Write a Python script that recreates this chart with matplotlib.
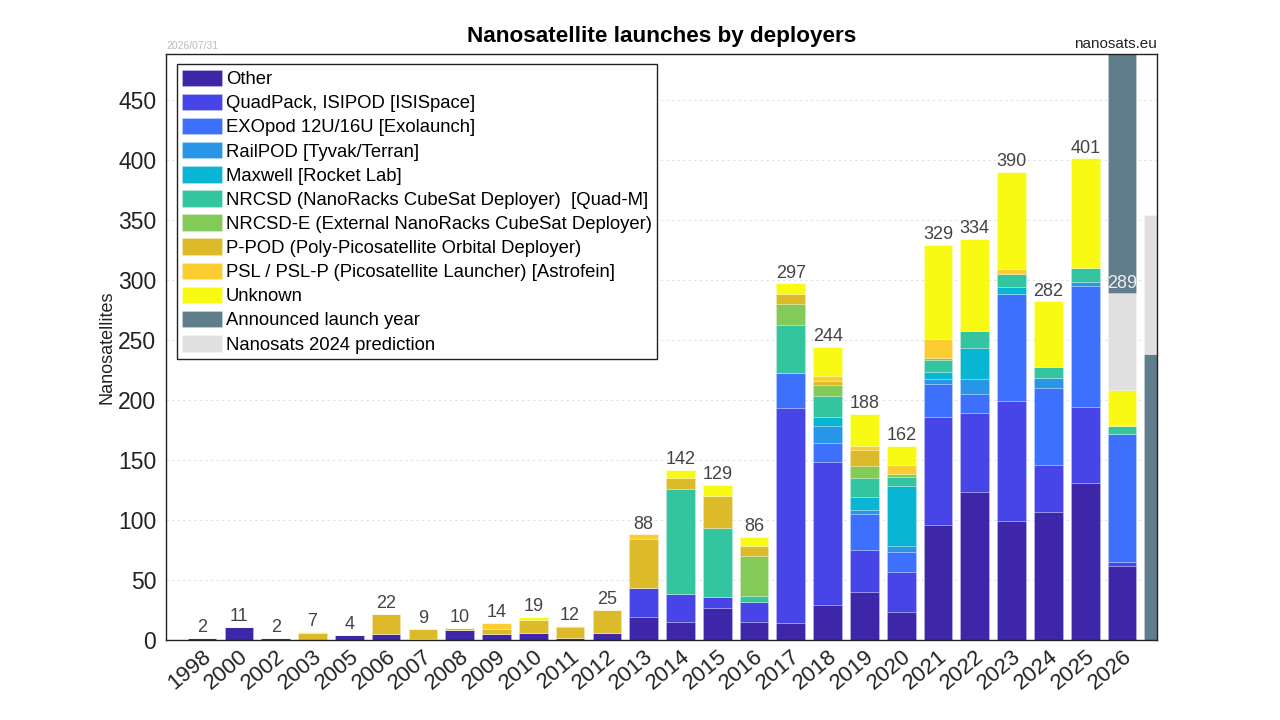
import numpy as np
import matplotlib
matplotlib.use("Agg")
import matplotlib.pyplot as plt

plt.rcParams['font.family'] = ['Liberation Sans', 'DejaVu Sans']

years = ['1998', '2000', '2002', '2003', '2005', '2006', '2007', '2008', '2009', '2010',
         '2011', '2012', '2013', '2014', '2015', '2016', '2017', '2018', '2019', '2020',
         '2021', '2022', '2023', '2024', '2025', '2026', '']

# per deployer counts (last entry = cut-off bar on the right)
other    = [2, 11, 2, 0, 4, 5, 1, 8, 5, 6, 2, 6, 19, 15, 27, 15, 14, 29, 40, 23, 96, 123, 99, 107, 131, 62, 0]
quadpack = [0, 0, 0, 0, 0, 0, 0, 0, 0, 0, 0, 0, 24, 23, 9, 17, 179, 119, 35, 34, 90, 66, 100, 39, 63, 3, 0]
exopod   = [0, 0, 0, 0, 0, 0, 0, 0, 0, 0, 0, 0, 0, 0, 0, 0, 29, 16, 30, 16, 27, 16, 89, 64, 101, 107, 0]
railpod  = [0, 0, 0, 0, 0, 0, 0, 0, 0, 0, 0, 0, 0, 0, 0, 0, 0, 14, 3, 5, 4, 12, 0, 8, 3, 0, 0]
maxwell  = [0, 0, 0, 0, 0, 0, 0, 0, 0, 0, 0, 0, 0, 0, 0, 0, 0, 8, 11, 50, 6, 26, 6, 0, 0, 0, 0]
nrcsd    = [0, 0, 0, 0, 0, 0, 0, 0, 0, 0, 0, 0, 0, 88, 57, 5, 40, 17, 16, 8, 10, 14, 11, 9, 12, 6, 0]
nrcsd_e  = [0, 0, 0, 0, 0, 0, 0, 0, 0, 0, 0, 0, 0, 0, 0, 33, 18, 9, 10, 2, 2, 0, 0, 0, 0, 0, 0]
ppod     = [0, 0, 0, 6, 0, 17, 8, 2, 4, 11, 9, 19, 41, 9, 27, 8, 8, 4, 13, 0, 0, 0, 0, 0, 0, 0, 0]
psl      = [0, 0, 0, 0, 0, 0, 0, 0, 5, 0, 1, 0, 4, 0, 0, 0, 0, 4, 4, 8, 16, 0, 4, 0, 0, 0, 0]
unknown  = [0, 0, 0, 1, 0, 0, 0, 0, 0, 2, 0, 0, 0, 7, 9, 8, 9, 24, 26, 16, 78, 77, 81, 55, 91, 30, 0]
announced_base = [0] * 26 + [238]
prediction     = [0] * 25 + [81, 116]
announced_top  = [0] * 25 + [230, 0]
totals = [2, 11, 2, 7, 4, 22, 9, 10, 14, 19, 12, 25, 88, 142, 129, 86, 297, 244, 188, 162,
          329, 334, 390, 282, 401, 289]

series = [
    ('Other', other, '#3d26a8'),
    ('QuadPack, ISIPOD [ISISpace]', quadpack, '#4745e8'),
    ('EXOpod 12U/16U [Exolaunch]', exopod, '#3e70fe'),
    ('RailPOD [Tyvak/Terran]', railpod, '#2896e8'),
    ('Maxwell [Rocket Lab]', maxwell, '#08b5d2'),
    ('NRCSD (NanoRacks CubeSat Deployer)  [Quad-M]', nrcsd, '#33c59f'),
    ('NRCSD-E (External NanoRacks CubeSat Deployer)', nrcsd_e, '#82cb59'),
    ('P-POD (Poly-Picosatellite Orbital Deployer)', ppod, '#dcba2a'),
    ('PSL / PSL-P (Picosatellite Launcher) [Astrofein]', psl, '#fbcd30'),
    ('Unknown', unknown, '#f8fa14'),
    ('Announced launch year', announced_base, '#607d8b'),
    ('Nanosats 2024 prediction', prediction, '#e0e0e0'),
    ('_announced_top', announced_top, '#607d8b'),
]

x = np.arange(len(years))
fig = plt.figure(figsize=(12.8, 7.2), dpi=100)
ax = fig.add_axes([0.1297, 0.111, 0.7742, 0.814])

bottom = np.zeros(len(years))
handles = {}
for name, vals, col in series:
    vals = np.array(vals, dtype=float)
    b = ax.bar(x, vals, 0.78, bottom=bottom, color=col, edgecolor=(1, 1, 1, 0.3),
               linewidth=0.5, zorder=2, label=name)
    handles[name] = b
    bottom += vals

for i, t in enumerate(totals):
    if i == 25:
        ax.text(i, t + 1, str(t), ha='center', va='bottom', fontsize=13, color='#eeeeee', zorder=4)
    else:
        ax.text(i, t + 1.5, str(t), ha='center', va='bottom', fontsize=13, color='#444444', zorder=4)

ax.set_xlim(-0.98, 25.95)
ax.set_ylim(0, 488)
ax.set_yticks(np.arange(0, 451, 50))
ax.set_xticks(x[:26])
ax.set_xticklabels(years[:26], rotation=40, ha='right', rotation_mode='anchor', fontsize=16, color='#222222')
ax.tick_params(axis='y', labelsize=16.5, labelcolor='#222222', length=0, pad=7)
ax.tick_params(axis='x', length=0, pad=4)
ax.grid(axis='y', linestyle=(0, (2, 3)), color='#e0e0e0', linewidth=0.8, zorder=0)
ax.set_axisbelow(True)
for s in ax.spines.values():
    s.set_linewidth(1.0)
    s.set_color('#222222')
ax.set_ylabel('Nanosatellites', fontsize=13, color='#222222', labelpad=2)

order = ['Other', 'QuadPack, ISIPOD [ISISpace]', 'EXOpod 12U/16U [Exolaunch]', 'RailPOD [Tyvak/Terran]',
         'Maxwell [Rocket Lab]', 'NRCSD (NanoRacks CubeSat Deployer)  [Quad-M]',
         'NRCSD-E (External NanoRacks CubeSat Deployer)', 'P-POD (Poly-Picosatellite Orbital Deployer)',
         'PSL / PSL-P (Picosatellite Launcher) [Astrofein]', 'Unknown', 'Announced launch year',
         'Nanosats 2024 prediction']
leg = ax.legend([handles[n] for n in order], order, loc='upper left', fontsize=13.3,
                bbox_to_anchor=(0.011, 0.983), handlelength=2.15, handleheight=1.0,
                handletextpad=0.2, labelspacing=0.3, borderpad=0.3, fancybox=False,
                framealpha=1, edgecolor='#222222', borderaxespad=0)
leg.get_frame().set_linewidth(1.0)

ax.text(0.5, 1.012, 'Nanosatellite launches by deployers', transform=ax.transAxes, ha='center',
        va='bottom', fontsize=16.2, fontweight='bold')
fig.text(0.1297, 0.929, '2026/07/31', ha='left', va='bottom', fontsize=7.5, color='#bbbbbb')
fig.text(0.904, 0.929, 'nanosats.eu', ha='right', va='bottom', fontsize=11, color='#222222')

fig.savefig('out.png', dpi=100)
